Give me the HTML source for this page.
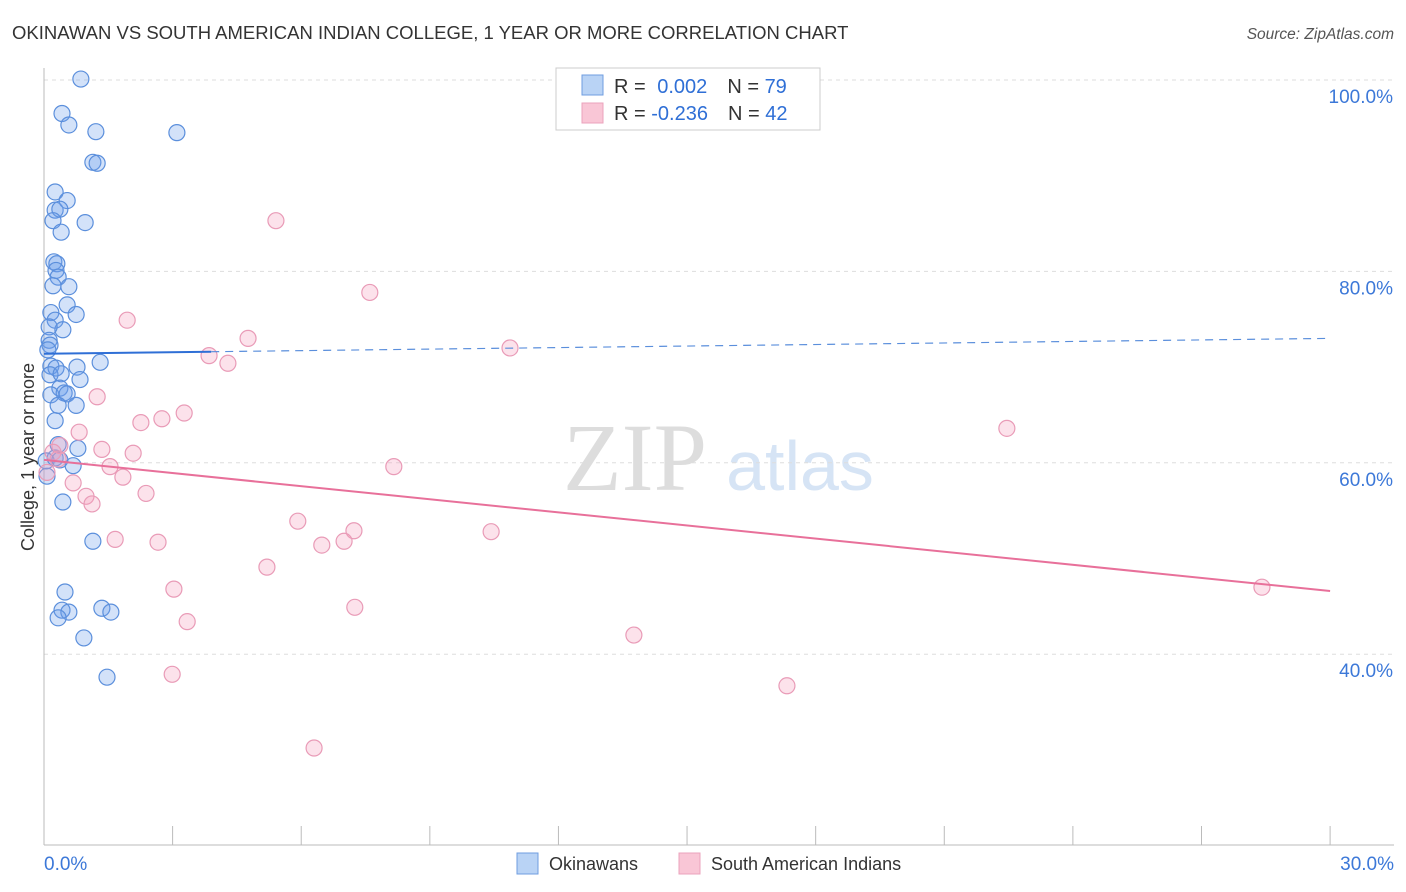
<!DOCTYPE html>
<html><head><meta charset="utf-8">
<style>
body{margin:0;background:#fff;font-family:"Liberation Sans",sans-serif;}
svg{display:block}
</style></head>
<body>
<svg id="chart" width="1406" height="892">
<text x="12" y="39" font-size="18.5" fill="#333">OKINAWAN VS SOUTH AMERICAN INDIAN COLLEGE, 1 YEAR OR MORE CORRELATION CHART</text>
<text x="1394" y="39" font-size="15.5" fill="#555" font-style="italic" text-anchor="end">Source: ZipAtlas.com</text>
<text x="34" y="457" font-size="18" fill="#333" text-anchor="middle" transform="rotate(-90 34 457)">College, 1 year or more</text>
<g><text x="635" y="490" font-size="96" fill="#ddd" font-family="Liberation Serif" text-anchor="middle">ZIP</text><text x="800" y="490" font-size="70" fill="#d6e4f5" text-anchor="middle">atlas</text></g>
<g id="grid"></g><g id="marks"></g>
<g>
<rect x="556" y="68" width="264" height="62" fill="#fff" stroke="#ccc"/>
<rect x="582" y="75" width="21" height="20" fill="#b9d3f5" stroke="#6f9ee0"/>
<rect x="582" y="103" width="21" height="20" fill="#f9c6d6" stroke="#eba3bc"/>
<text x="614" y="93" font-size="20" fill="#333">R = <tspan fill="#2f6fd6" dx="6">0.002</tspan><tspan dx="20" fill="#333">N = </tspan><tspan fill="#2f6fd6">79</tspan></text>
<text x="614" y="120" font-size="20" fill="#333">R = <tspan fill="#2f6fd6">-0.236</tspan><tspan dx="20" fill="#333">N = </tspan><tspan fill="#2f6fd6">42</tspan></text>
</g>
<g>
<rect x="517" y="853" width="21" height="21" fill="#b9d3f5" stroke="#6f9ee0"/>
<text x="549" y="870" font-size="18" fill="#333">Okinawans</text>
<rect x="679" y="853" width="21" height="21" fill="#f9c6d6" stroke="#eba3bc"/>
<text x="711" y="870" font-size="18" fill="#333">South American Indians</text>
</g>
</svg>
<script>
const blueX=[0.86,0.42,0.58,1.21,3.10,1.14,1.24,0.26,0.54,0.26,0.37,0.21,0.96,0.40,0.23,0.30,0.28,0.33,0.21,0.58,0.54,0.16,0.75,0.26,0.44,0.12,0.12,0.14,0.09,1.31,0.16,0.28,0.77,0.14,0.40,0.84,0.37,0.16,0.47,0.54,0.33,0.75,0.26,0.33,0.79,0.26,0.05,0.37,0.68,0.07,0.44,1.14,0.49,0.42,0.58,1.35,1.56,0.33,0.93,1.47];
const blueY=[100.1,96.5,95.3,94.6,94.5,91.4,91.3,88.3,87.4,86.4,86.5,85.3,85.1,84.1,81.0,80.8,80.1,79.4,78.5,78.4,76.5,75.7,75.5,74.9,73.9,74.2,72.8,72.3,71.8,70.5,70.1,69.9,70.0,69.2,69.3,68.7,67.8,67.1,67.3,67.2,66.0,66.0,64.4,61.9,61.5,60.5,60.2,60.3,59.7,58.6,55.9,51.8,46.5,44.6,44.4,44.8,44.4,43.8,41.7,37.6];
const pinkX=[5.41,7.60,1.94,4.76,10.87,3.85,4.29,1.24,3.27,2.75,2.26,0.82,0.37,22.46,1.35,2.08,0.21,0.33,1.54,8.16,0.07,1.84,0.68,0.98,1.12,2.38,5.92,7.23,7.00,6.48,10.43,1.66,2.66,5.20,3.03,7.25,3.34,13.76,28.41,2.99,17.33,6.30];
const pinkY=[85.3,77.8,74.9,73.0,72.0,71.2,70.4,66.9,65.2,64.6,64.2,63.2,61.8,63.6,61.4,61.0,61.1,60.4,59.6,59.6,59.0,58.5,57.9,56.5,55.7,56.8,53.9,52.9,51.8,51.4,52.8,52.0,51.7,49.1,46.8,44.9,43.4,42.0,47.0,37.9,36.7,30.2];
const blueTrend=[71.4,73.0];
const pinkTrend=[60.3,46.6];
const yTicks=[100,80,60,40];
const xTickVals=[0,3,6,9,12,15,18,21,24,27,30];
const NS="http://www.w3.org/2000/svg";
const sx=v=>44+v*42.87, sy=v=>80+(100-v)*9.57;
function mk(t,a,p){const e=document.createElementNS(NS,t);for(const k in a)e.setAttribute(k,a[k]);p.appendChild(e);return e;}
const grid=document.getElementById('grid'),marks=document.getElementById('marks');
yTicks.forEach(v=>{
 const l=mk('line',{x1:44,x2:1394,y1:sy(v),y2:sy(v),stroke:'#ddd','stroke-dasharray':'4,4'},grid);
 
 
 const t=mk('text',{x:1393,y:sy(v)+23,'font-size':19,fill:'#3c78d8','text-anchor':'end'},grid);
 t.textContent=v.toFixed(1)+'%';
 
 
});
mk('line',{x1:44,x2:44,y1:68,y2:845,stroke:'#bbb'},grid);
mk('line',{x1:44,x2:1394,y1:845,y2:845,stroke:'#bbb'},grid);
xTickVals.forEach(v=>{
 const l=mk('line',{x1:sx(v),x2:sx(v),y1:826,y2:845,stroke:'#bbb'},grid);
 
 
});
[[0,'start',44],[30,'end',1394]].forEach(([v,a,x])=>{
 const t=mk('text',{x:x,y:870,'font-size':19,fill:'#3c78d8','text-anchor':a},grid);
 t.textContent=v.toFixed(1)+'%';
 
 
});
blueX.forEach((x,i)=>{
 const c=mk('circle',{cx:sx(x),cy:sy(blueY[i]),r:8,fill:'rgba(110,160,235,0.3)',stroke:'#5b8fdc','stroke-width':1.2},marks);
 
 
});
pinkX.forEach((x,i)=>{
 const c=mk('circle',{cx:sx(x),cy:sy(pinkY[i]),r:8,fill:'rgba(245,160,190,0.3)',stroke:'#e99bb7','stroke-width':1.2},marks);
 
 
});
const bAt=x=>blueTrend[0]+(blueTrend[1]-blueTrend[0])*x/30;
let l1=mk('line',{x1:sx(0),y1:sy(bAt(0)),x2:sx(3.9),y2:sy(bAt(3.9)),stroke:'#2f6fd6','stroke-width':2},marks);


let l2=mk('line',{x1:sx(3.9),y1:sy(bAt(3.9)),x2:sx(30),y2:sy(bAt(30)),stroke:'#5b8fdc','stroke-width':1.2,'stroke-dasharray':'8,6'},marks);


let l3=mk('line',{x1:sx(0),y1:sy(pinkTrend[0]),x2:sx(30),y2:sy(pinkTrend[1]),stroke:'#e8709a','stroke-width':2},marks);


</script>
</body></html>
